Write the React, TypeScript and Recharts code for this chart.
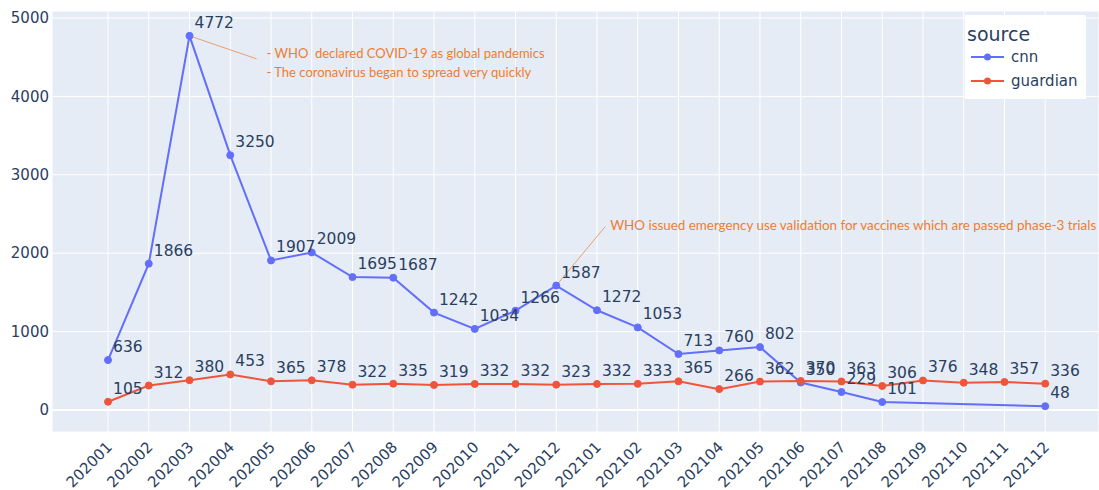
import {
  CartesianGrid,
  LabelList,
  Legend,
  Line,
  LineChart,
  ReferenceDot,
  ReferenceLine,
  XAxis,
  YAxis,
} from "recharts";

const months = [
  "202001", "202002", "202003", "202004", "202005", "202006",
  "202007", "202008", "202009", "202010", "202011", "202012",
  "202101", "202102", "202103", "202104", "202105", "202106",
  "202107", "202108", "202109", "202110", "202111", "202112",
];
// cnn has no articles counted for 202109-202111
const cnn = [
  636, 1866, 4772, 3250, 1907, 2009, 1695, 1687, 1242, 1034, 1266, 1587,
  1272, 1053, 713, 760, 802, 350, 229, 101, null, null, null, 48,
];
const guardian = [
  105, 312, 380, 453, 365, 378, 322, 335, 319, 332, 332, 323,
  332, 333, 365, 266, 362, 370, 363, 306, 376, 348, 357, 336,
];
const yTicks = [0, 1000, 2000, 3000, 4000, 5000];

const note1 = ["- WHO  declared COVID-19 as global pandemics", "- The coronavirus began to spread very quickly"];
const note2 = "WHO issued emergency use validation for vaccines which are passed phase-3 trials";

const CNN = "#636efa";
const GUARDIAN = "#ef553b";
const TEXT = "#2a3f5f";
const NOTE = "#ed7d31";

const data = months.map((m, i) => ({ idx: i, month: m, cnn: cnn[i], guardian: guardian[i] }));
const xTicks = months.map((_, i) => i);

// eslint-disable-next-line  @typescript-eslint/no-explicit-any
const PointLabel = (props: any) => {
  const { x, y, value } = props;
  if (value == null) return null;
  return (
    <text x={x + 5} y={y - 8} fill={TEXT} fontSize={15.5}>
      {value}
    </text>
  );
};

// eslint-disable-next-line  @typescript-eslint/no-explicit-any
const MonthTick = (props: any) => {
  const { x, y, payload } = props;
  return (
    <text
      transform={`translate(${x + 5},${y + 16}) rotate(-45)`}
      textAnchor="end"
      fill={TEXT}
      fontSize={15}
    >
      {months[payload.value]}
    </text>
  );
};

// eslint-disable-next-line  @typescript-eslint/no-explicit-any
const Note1 = (p: any) => (
  <g>
    <line x1={p.cx} y1={p.cy} x2={p.cx + 67} y2={p.cy + 23} stroke={NOTE} strokeOpacity={0.7} strokeWidth={1} />
    {note1.map((t, i) => (
      <text
        key={i}
        x={p.cx + 77}
        y={p.cy + 22 + i * 19}
        fill={NOTE}
        fontSize={13}
        fontFamily="Lato"
        style={{ whiteSpace: "pre" }}
      >
        {t}
      </text>
    ))}
  </g>
);

// eslint-disable-next-line  @typescript-eslint/no-explicit-any
const Note2 = (p: any) => (
  <g>
    <line x1={p.cx} y1={p.cy} x2={p.cx + 49} y2={p.cy - 59} stroke={NOTE} strokeOpacity={0.7} strokeWidth={1} />
    <text x={p.cx + 54} y={p.cy - 56} fill={NOTE} fontSize={13.4} fontFamily="Lato">
      {note2}
    </text>
  </g>
);

const LegendBox = () => (
  <div
    style={{
      background: "#fff",
      width: 121,
      height: 84,
      position: "relative",
      color: TEXT,
      fontFamily: "DejaVu Sans",
    }}
  >
    <div style={{ position: "absolute", left: 2, top: 7, fontSize: 19, lineHeight: "24px" }}>source</div>
    {[
      { name: "cnn", color: CNN, top: 32 },
      { name: "guardian", color: GUARDIAN, top: 56 },
    ].map((s) => (
      <div key={s.name} style={{ position: "absolute", left: 0, top: s.top, height: 20, width: 121 }}>
        <svg width={44} height={20} style={{ position: "absolute", left: 0, top: 0 }}>
          <line x1={6} y1={10} x2={39} y2={10} stroke={s.color} strokeWidth={2} />
          <circle cx={22.5} cy={10} r={3.5} fill={s.color} />
        </svg>
        <span style={{ position: "absolute", left: 46, top: 0, fontSize: 15, lineHeight: "20px" }}>{s.name}</span>
      </div>
    ))}
  </div>
);

export default function App() {
  return (
    <div style={{ position: "absolute", left: 0, top: 0, fontFamily: "DejaVu Sans", background: "#fff" }}>
      <LineChart width={1099} height={490} data={data} margin={{ top: 11, right: 0, bottom: 0, left: 0 }}>
        <CartesianGrid stroke="#fff" strokeWidth={1} fill="#e5ecf6" fillOpacity={1} />
        <XAxis
          dataKey="idx"
          type="number"
          domain={[-1.375, 24.32]}
          allowDataOverflow
          ticks={xTicks}
          interval={0}
          height={58}
          tick={<MonthTick />}
          tickLine={false}
          axisLine={false}
          tickSize={0}
          tickMargin={0}
        />
        <YAxis
          type="number"
          domain={[-281, 5089]}
          allowDataOverflow
          ticks={yTicks}
          width={52}
          tick={{ fill: TEXT, fontSize: 15 }}
          tickLine={false}
          axisLine={false}
          tickSize={0}
          tickMargin={3}
        />
        <ReferenceLine y={0} stroke="#fff" strokeWidth={2} />
        <Legend
          layout="vertical"
          align="center"
          verticalAlign="middle"
          content={<LegendBox />}
          wrapperStyle={{ left: 965, top: 15, width: 121, height: 84 }}
        />
        <Line
          dataKey="cnn"
          name="cnn"
          stroke={CNN}
          strokeWidth={2}
          connectNulls
          dot={{ r: 3.5, fill: CNN, stroke: CNN, strokeWidth: 1 }}
          activeDot={false}
          isAnimationActive={false}
        >
          <LabelList dataKey="cnn" content={<PointLabel />} />
        </Line>
        <Line
          dataKey="guardian"
          name="guardian"
          stroke={GUARDIAN}
          strokeWidth={2}
          dot={{ r: 3.5, fill: GUARDIAN, stroke: GUARDIAN, strokeWidth: 1 }}
          activeDot={false}
          isAnimationActive={false}
        >
          <LabelList dataKey="guardian" content={<PointLabel />} />
        </Line>
        <ReferenceDot x={2} y={4772} r={0} ifOverflow="visible" shape={Note1} />
        <ReferenceDot x={11} y={1587} r={0} ifOverflow="visible" shape={Note2} />
      </LineChart>
    </div>
  );
}
